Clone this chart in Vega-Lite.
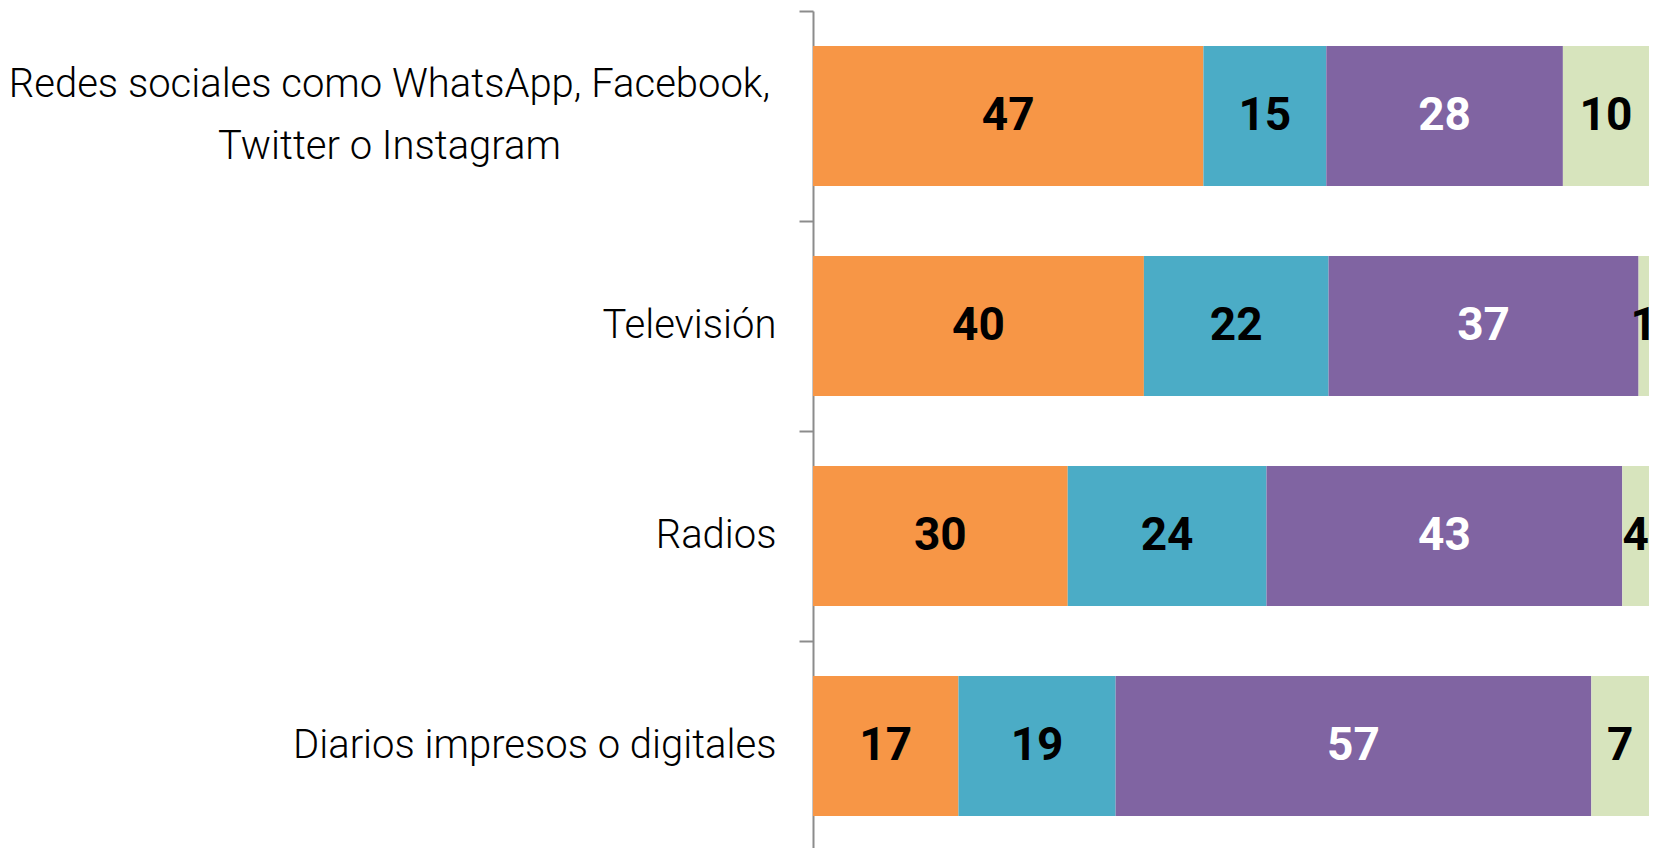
{
  "$schema": "https://vega.github.io/schema/vega-lite/v6.json",
  "autosize": {"type": "none"},
  "padding": {"left": 813, "top": 11, "right": 0, "bottom": 0},
  "width": 836,
  "height": 840,
  "background": "white",
  "config": {"view": {"stroke": null}},
  "data": {
    "values": [
      {"medio": "Redes sociales como WhatsApp, Facebook, Twitter o Instagram", "serie": "s1", "orden": 1, "pct": 46.7, "etiqueta": 47},
      {"medio": "Redes sociales como WhatsApp, Facebook, Twitter o Instagram", "serie": "s2", "orden": 2, "pct": 14.7, "etiqueta": 15},
      {"medio": "Redes sociales como WhatsApp, Facebook, Twitter o Instagram", "serie": "s3", "orden": 3, "pct": 28.3, "etiqueta": 28},
      {"medio": "Redes sociales como WhatsApp, Facebook, Twitter o Instagram", "serie": "s4", "orden": 4, "pct": 10.3, "etiqueta": 10},
      {"medio": "Televisión", "serie": "s1", "orden": 1, "pct": 39.6, "etiqueta": 40},
      {"medio": "Televisión", "serie": "s2", "orden": 2, "pct": 22.1, "etiqueta": 22},
      {"medio": "Televisión", "serie": "s3", "orden": 3, "pct": 37.1, "etiqueta": 37},
      {"medio": "Televisión", "serie": "s4", "orden": 4, "pct": 1.25, "etiqueta": 1},
      {"medio": "Radios", "serie": "s1", "orden": 1, "pct": 30.5, "etiqueta": 30},
      {"medio": "Radios", "serie": "s2", "orden": 2, "pct": 23.8, "etiqueta": 24},
      {"medio": "Radios", "serie": "s3", "orden": 3, "pct": 42.6, "etiqueta": 43},
      {"medio": "Radios", "serie": "s4", "orden": 4, "pct": 3.2, "etiqueta": 4},
      {"medio": "Diarios impresos o digitales", "serie": "s1", "orden": 1, "pct": 17.4, "etiqueta": 17},
      {"medio": "Diarios impresos o digitales", "serie": "s2", "orden": 2, "pct": 18.8, "etiqueta": 19},
      {"medio": "Diarios impresos o digitales", "serie": "s3", "orden": 3, "pct": 56.9, "etiqueta": 57},
      {"medio": "Diarios impresos o digitales", "serie": "s4", "orden": 4, "pct": 6.9, "etiqueta": 7}
    ]
  },
  "encoding": {
    "y": {
      "field": "medio",
      "type": "nominal",
      "sort": null,
      "title": null,
      "scale": {"paddingInner": 0, "paddingOuter": 0},
      "axis": {
        "bandPosition": 0,
        "domainColor": "#8c8c8c",
        "domainWidth": 2,
        "tickColor": "#8c8c8c",
        "tickWidth": 2,
        "tickSize": 14,
        "labelFont": "Roboto",
        "labelFontWeight": 300,
        "labelFontSize": 40,
        "labelColor": "#000000",
        "labelLimit": 1000,
        "labelLineHeight": 62,
        "labelExpr": "datum.value == 'Redes sociales como WhatsApp, Facebook, Twitter o Instagram' ? ['Redes sociales como WhatsApp, Facebook,', 'Twitter o Instagram'] : datum.value",
        "labelAlign": {"condition": {"test": "indexof(datum.value, 'Redes') == 0", "value": "center"}, "value": "right"},
        "labelPadding": {"condition": {"test": "indexof(datum.value, 'Redes') == 0", "value": 410}, "value": 23},
        "labelOffset": {"condition": {"test": "indexof(datum.value, 'Redes') == 0", "value": -31}, "value": 0}
      }
    },
    "x": {"field": "pct", "type": "quantitative", "stack": "normalize", "axis": null, "scale": {"domain": [0, 1]}},
    "order": {"field": "orden"}
  },
  "layer": [
    {
      "mark": {"type": "bar", "height": {"band": 0.667}},
      "encoding": {
        "color": {
          "field": "serie",
          "type": "nominal",
          "legend": null,
          "scale": {"domain": ["s1", "s2", "s3", "s4"], "range": ["#F79646", "#4BACC6", "#8064A2", "#D7E4BD"]}
        }
      }
    },
    {
      "mark": {"type": "text", "font": "Roboto", "fontWeight": "bold", "fontSize": 46, "baseline": "middle"},
      "encoding": {
        "x": {"field": "pct", "type": "quantitative", "stack": "normalize", "bandPosition": 0.5},
        "detail": {"field": "serie"},
        "text": {"field": "etiqueta", "type": "quantitative"},
        "color": {"condition": {"test": "datum.serie == 's3'", "value": "#ffffff"}, "value": "#000000"}
      }
    }
  ]
}
